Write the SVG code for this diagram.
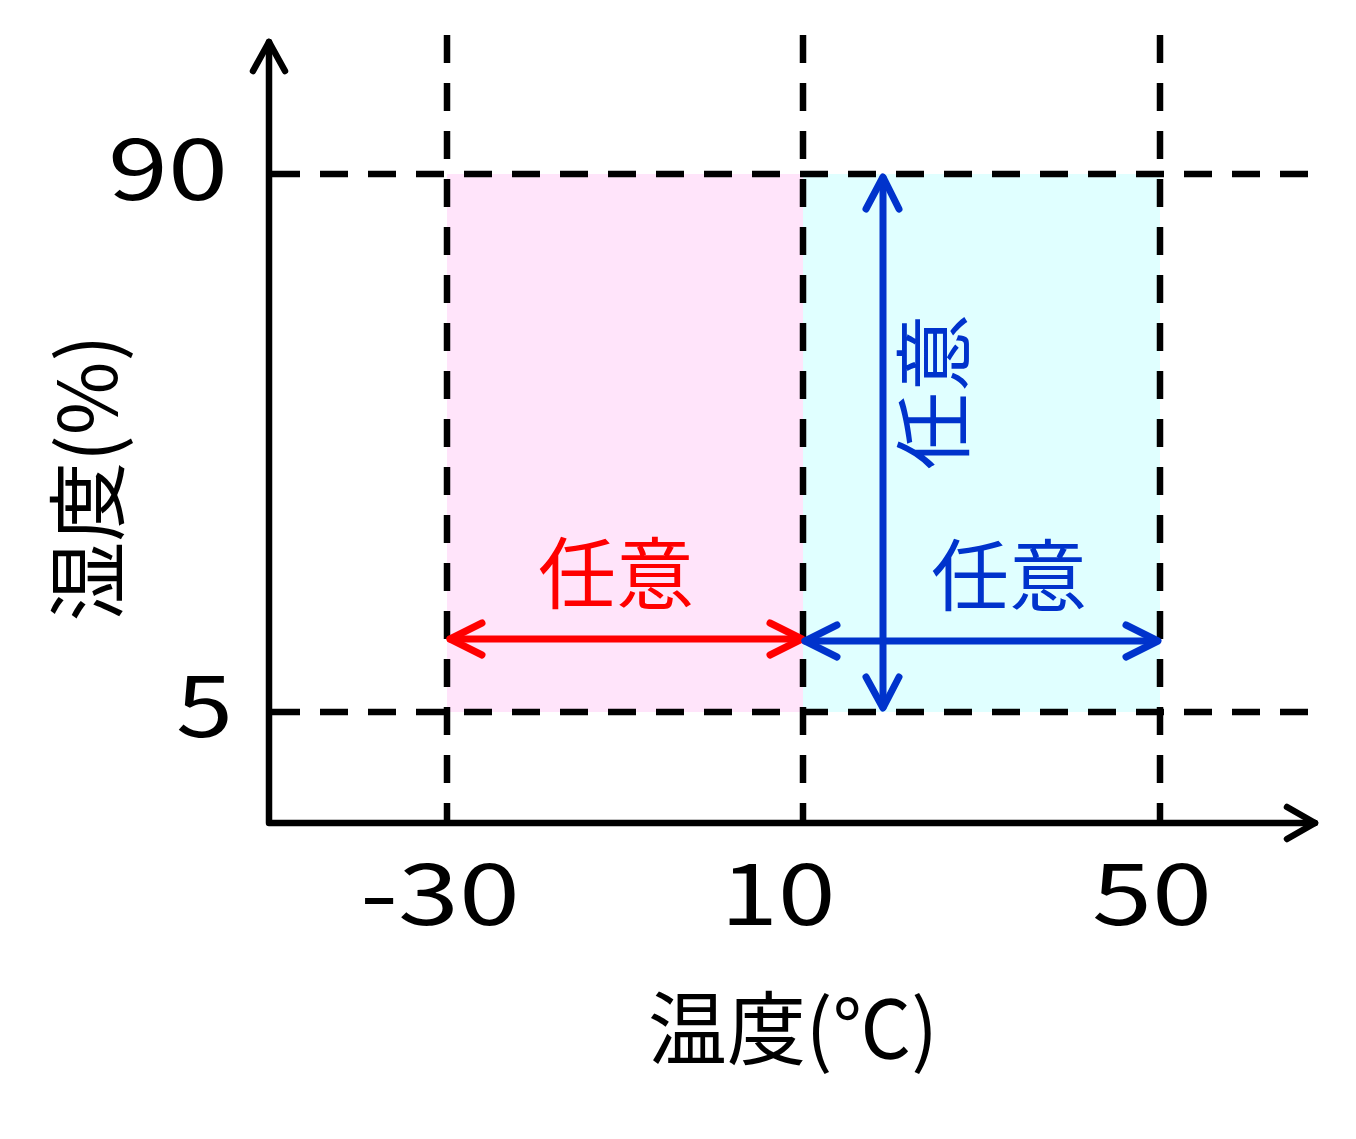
<svg xmlns="http://www.w3.org/2000/svg" width="1356" height="1139" viewBox="0 0 1356 1139">
<style>
.dash{stroke:#000;stroke-width:6.5;stroke-dasharray:28 20;fill:none}
.axis{stroke:#000;stroke-width:6.5;fill:none;stroke-linecap:round;stroke-linejoin:round}
.red{stroke:#FF0000;stroke-width:7;fill:none;stroke-linecap:round;stroke-linejoin:round}
.blue{stroke:#0033CC;stroke-width:7;fill:none;stroke-linecap:round;stroke-linejoin:round}
.t{font-family:"Noto Sans CJK JP","Noto Sans",sans-serif;fill:#000}
</style>
<rect width="1356" height="1139" fill="#fff"/>
<g id="regions">
<rect x="447" y="174" width="356" height="538" fill="#FFE4FA"/>
<rect x="803" y="174" width="357" height="538" fill="#E0FFFF"/>
</g>
<g id="gridlines">
<line class="dash" x1="272" y1="174" x2="1310" y2="174"/>
<line class="dash" x1="272" y1="712" x2="1310" y2="712"/>
<line class="dash" x1="447" y1="35" x2="447" y2="820"/>
<line class="dash" x1="803" y1="35" x2="803" y2="820"/>
<line class="dash" x1="1160" y1="35" x2="1160" y2="820"/>
</g>
<g id="axes">
<polyline class="axis" points="269,42 269,823 1315,823"/>
<polyline class="axis" points="253,71 269,42 285,71"/>
<polyline class="axis" points="1287,807 1315,823 1287,839"/>
</g>
<g id="connectors">
<line class="red" x1="450" y1="639" x2="800" y2="639"/>
<polyline class="red" points="482,623 450,639 482,655"/>
<polyline class="red" points="770,623 802,639 770,655"/>
<line class="blue" x1="805" y1="641" x2="1156" y2="641"/>
<polyline class="blue" points="837,625 805,641 837,657"/>
<polyline class="blue" points="1126,625 1158,641 1126,657"/>
<line class="blue" x1="883" y1="178" x2="883" y2="707"/>
<polyline class="blue" points="866,209 883,177 899,209"/>
<polyline class="blue" points="866,677 883,708 899,677"/>
</g>
<g id="labels">
<text class="t" x="228" y="200" font-size="86" text-anchor="end" textLength="120" lengthAdjust="spacingAndGlyphs">90</text>
<text class="t" x="233" y="737" font-size="86" text-anchor="end" textLength="57" lengthAdjust="spacingAndGlyphs">5</text>
<text class="t" x="440" y="925" font-size="86" text-anchor="middle" textLength="160" lengthAdjust="spacingAndGlyphs">-30</text>
<text class="t" x="778" y="925" font-size="86" text-anchor="middle" textLength="115" lengthAdjust="spacingAndGlyphs">10</text>
<text class="t" x="1152" y="925" font-size="86" text-anchor="middle" textLength="120" lengthAdjust="spacingAndGlyphs">50</text>
<text class="t" x="793" y="1058" font-size="80" text-anchor="middle" textLength="290" lengthAdjust="spacingAndGlyphs">温度(℃)</text>
<text class="t" transform="translate(87,478) rotate(-90)" x="0" y="30" font-size="80" text-anchor="middle" textLength="287" lengthAdjust="spacingAndGlyphs">湿度(%)</text>
<text class="t" x="616" y="603" font-size="78" text-anchor="middle" style="fill:#FF0000">任意</text>
<text class="t" x="1009" y="605" font-size="78" text-anchor="middle" style="fill:#0033CC">任意</text>
<text class="t" transform="translate(935,392) rotate(-90)" x="0" y="28" font-size="78" text-anchor="middle" style="fill:#0033CC">任意</text>
</g>
</svg>
